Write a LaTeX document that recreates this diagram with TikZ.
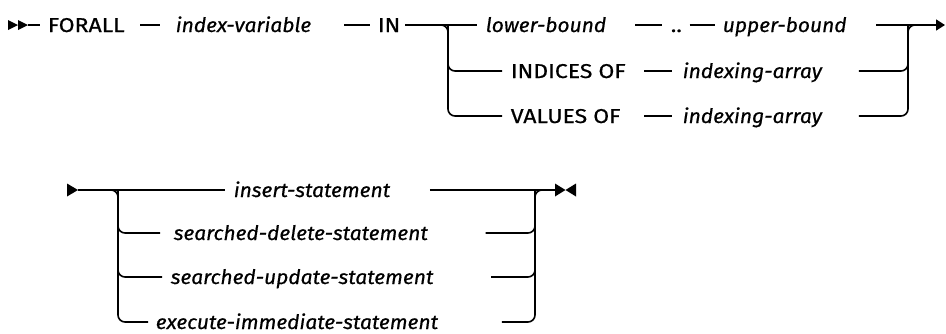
\documentclass[tikz,border=0pt]{standalone}
\usepackage{fontspec}
\setmainfont{Fira Sans}
\newfontfamily\kwfont{Fira Sans}[FakeStretch=1.15,FakeBold=0.6]
\newfontfamily\varfont{Fira Sans}[FakeStretch=1.05,FakeBold=0.6]
\usetikzlibrary{arrows.meta}
\newcommand\railsize{\fontsize{20}{24}\selectfont}
\tikzset{
  rail/.style={line width=1.6pt},
  kw/.style={anchor=west,inner sep=0pt,text height=14pt,text depth=0pt,font=\railsize\kwfont},
  var/.style={kw,font=\railsize\varfont\itshape},
}

\begin{document}
\begin{tikzpicture}[x=1pt,y=-1pt,rail]
\useasboundingbox (0,0) rectangle (946,333);
\coordinate (s1) at (8,25);\coordinate (lsplit) at (448,25);\coordinate (rsplit) at (908,25);\coordinate (e1) at (945,25);
\fill (s1) ++(0,-5) -- ++(10,5) -- ++(-10,5) -- cycle;
\fill (s1) ++(10,-5) -- ++(10,5) -- ++(-10,5) -- cycle;
\node[kw] (forall) at (47,25) {FORALL};
\node[var] (ivar) at (175,25) {index-variable};
\node[kw] (in) at (377,25) {IN};
\node[var] (lb) at (485,25) {lower-bound};
\node[kw] (dots) at (670,25) {..};
\node[var] (ub) at (722,25) {upper-bound};
\node[kw] (io) at (510,71) {INDICES OF};
\node[var] (ia1) at (682,71) {indexing-array};
\node[kw] (vo) at (510,116) {VALUES OF};
\node[var] (ia2) at (682,116) {indexing-array};
\draw ([xshift=20pt]s1) -- ([xshift=-7pt]forall.west);
\draw ([xshift=15pt]forall.east) -- ([xshift=-15pt]ivar.west);
\draw ([xshift=32pt]ivar.east) -- ([xshift=-7pt]in.west);
\draw ([xshift=4pt]in.east) -- ([xshift=-8pt]lb.west);
\draw ([xshift=28pt]lb.east) -- ([xshift=-8pt]dots.west);
\draw ([xshift=7pt]dots.east) -- ([xshift=-7pt]ub.west);
\draw[-{Triangle[length=9pt,width=11pt]}] ([xshift=29pt]ub.east) -- (e1);
\draw ([xshift=18pt]io.east) -- ([xshift=-10pt]ia1.west);
\draw ([xshift=18pt]io.east |- vo.east) -- ([xshift=-10pt]ia2.west);
\draw[rounded corners=7pt] ([xshift=-10pt]lsplit) -| (vo.west -| lsplit) -- ([xshift=-8pt]vo.west);
\draw[rounded corners=7pt] (lsplit) |- ([xshift=-8pt]io.west);
\draw[rounded corners=7pt] ([xshift=36pt]ia2.east) -| (rsplit) -- ([xshift=10pt]rsplit);
\draw[rounded corners=7pt] ([xshift=36pt]ia1.east) -| (rsplit);
\coordinate (s2) at (67,190);\coordinate (lsplit2) at (118,190);\coordinate (rsplit2) at (535,190);\coordinate (e2) at (555,190);
\fill (s2) ++(0,-6.5) -- ++(11,6.5) -- ++(-11,6.5) -- cycle;
\node[var] (ins) at (233,190) {insert-statement};
\node[var] (del) at (173,233) {searched-delete-statement};
\node[var] (upd) at (170,277) {searched-update-statement};
\node[var] (exe) at (155,322) {execute-immediate-statement};
\draw ([xshift=11pt]s2) -- ([xshift=-8pt]ins.west);
\draw ([xshift=39pt]ins.east) -- (e2);
\fill (e2) ++(0,-6.5) -- ++(10.5,6.5) -- ++(-10.5,6.5) -- cycle;
\fill (e2) ++(21,-6.5) -- ++(-10.5,6.5) -- ++(10.5,6.5) -- cycle;
\draw[rounded corners=7pt] ([xshift=-10pt]lsplit2) -| (exe.west -| lsplit2) -- ([xshift=-7pt]exe.west);
\draw[rounded corners=7pt] (lsplit2) |- ([xshift=-13pt]del.west);
\draw[rounded corners=7pt] (lsplit2) |- ([xshift=-8pt]upd.west);
\draw[rounded corners=7pt] ([xshift=57pt]del.east) -| (rsplit2);
\draw[rounded corners=7pt] ([xshift=57pt]upd.east) -| (rsplit2);
\draw[rounded corners=7pt] ([xshift=63pt]exe.east) -| (rsplit2) -- ([xshift=10pt]rsplit2);
\end{tikzpicture}
\end{document}
